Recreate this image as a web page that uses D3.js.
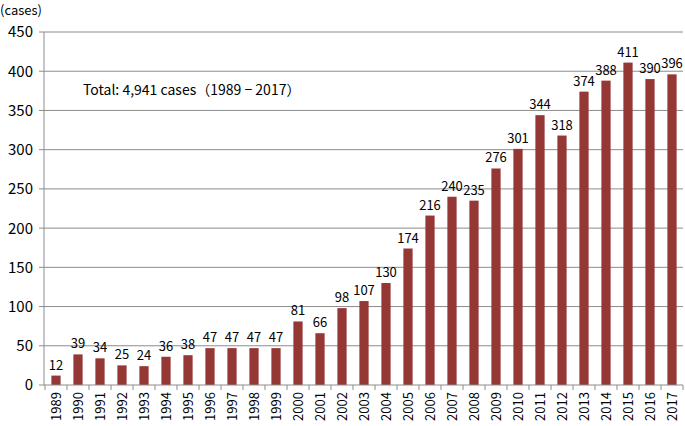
<!DOCTYPE html>
<html>
<head>
<meta charset="utf-8">
<script src="https://cdn.jsdelivr.net/npm/d3@7"></script>
<style>
  body { margin: 0; background: #fff; }
  text { font-family: "Noto Sans CJK JP", "Noto Sans", sans-serif; fill: #000; }
</style>
</head>
<body>
<div id="chart"></div>
<script>
// data
var years = ["1989","1990","1991","1992","1993","1994","1995","1996","1997","1998","1999","2000",
  "2001","2002","2003","2004","2005","2006","2007","2008","2009","2010","2011","2012","2013","2014",
  "2015","2016","2017"];
var cases = [12,39,34,25,24,36,38,47,47,47,47,81,66,98,107,130,174,216,240,235,276,301,344,318,374,388,411,390,396];
var yTicks = [0,50,100,150,200,250,300,350,400,450];

var W = 685, H = 426;
var margin = {top: 32, right: 2, bottom: 41, left: 44};
var width = W - margin.left - margin.right,
    height = H - margin.top - margin.bottom;

var svg = d3.select("#chart").append("svg")
  .attr("width", W).attr("height", H)
  .append("g")
  .attr("transform", "translate(" + margin.left + "," + margin.top + ")");

var x = d3.scaleBand().domain(years).range([1, width]).paddingInner(0.58).paddingOuter(0.29);
var y = d3.scaleLinear().domain([0, 450]).range([height, 0]);

// gridlines
svg.selectAll(".grid").data(yTicks.slice(1)).enter().append("line")
  .attr("x1", 0).attr("x2", width)
  .attr("y1", function(d) { return y(d); }).attr("y2", function(d) { return y(d); })
  .style("stroke", "#8c8c8c").style("stroke-width", 1);

// bars
svg.selectAll(".bar").data(cases).enter().append("rect")
  .attr("x", function(d, i) { return x(years[i]); })
  .attr("y", function(d) { return y(d); })
  .attr("width", x.bandwidth())
  .attr("height", function(d) { return height - y(d); })
  .style("fill", "#953735");

// value labels
svg.selectAll(".lbl").data(cases).enter().append("text")
  .attr("x", function(d, i) { return x(years[i]) + x.bandwidth() / 2; })
  .attr("y", function(d) { return y(d) - 6; })
  .attr("text-anchor", "middle")
  .style("font-size", "13px")
  .text(function(d) { return d; });

// y axis
svg.append("line").attr("x1", 0).attr("x2", 0).attr("y1", 0).attr("y2", height)
  .style("stroke", "#8c8c8c");
svg.selectAll(".ytick").data(yTicks).enter().append("line")
  .attr("x1", -5).attr("x2", 0)
  .attr("y1", function(d) { return y(d); }).attr("y2", function(d) { return y(d); })
  .style("stroke", "#8c8c8c");
svg.selectAll(".ylab").data(yTicks).enter().append("text")
  .attr("x", -11)
  .attr("y", function(d) { return y(d); })
  .attr("dy", "0.36em")
  .attr("text-anchor", "end")
  .style("font-size", "15px")
  .text(function(d) { return d; });

// x axis
svg.append("line").attr("x1", 0).attr("x2", width).attr("y1", height).attr("y2", height)
  .style("stroke", "#8c8c8c");
var step = x.step();
svg.selectAll(".xtick").data(d3.range(years.length + 1)).enter().append("line")
  .attr("x1", function(i) { return x(years[0]) - (step - x.bandwidth()) / 2 + i * step; })
  .attr("x2", function(i) { return x(years[0]) - (step - x.bandwidth()) / 2 + i * step; })
  .attr("y1", height).attr("y2", height + 5)
  .style("stroke", "#8c8c8c");
svg.selectAll(".xlab").data(years).enter().append("text")
  .attr("transform", function(d) {
    return "translate(" + (x(d) + x.bandwidth() / 2) + "," + (height + 7) + ") rotate(-90)";
  })
  .attr("dy", "0.36em")
  .attr("text-anchor", "end")
  .style("font-size", "13px")
  .text(function(d) { return d; });

// titles
d3.select("svg").append("text").attr("x", 0).attr("y", 15)
  .style("font-size", "13px").text("(cases)");
d3.select("svg").append("text").attr("x", 83).attr("y", 95)
  .style("font-size", "14px").text("Total: 4,941 cases（1989 − 2017）")
  .attr("xml:space", "preserve").style("white-space", "pre");
</script>
</body>
</html>
